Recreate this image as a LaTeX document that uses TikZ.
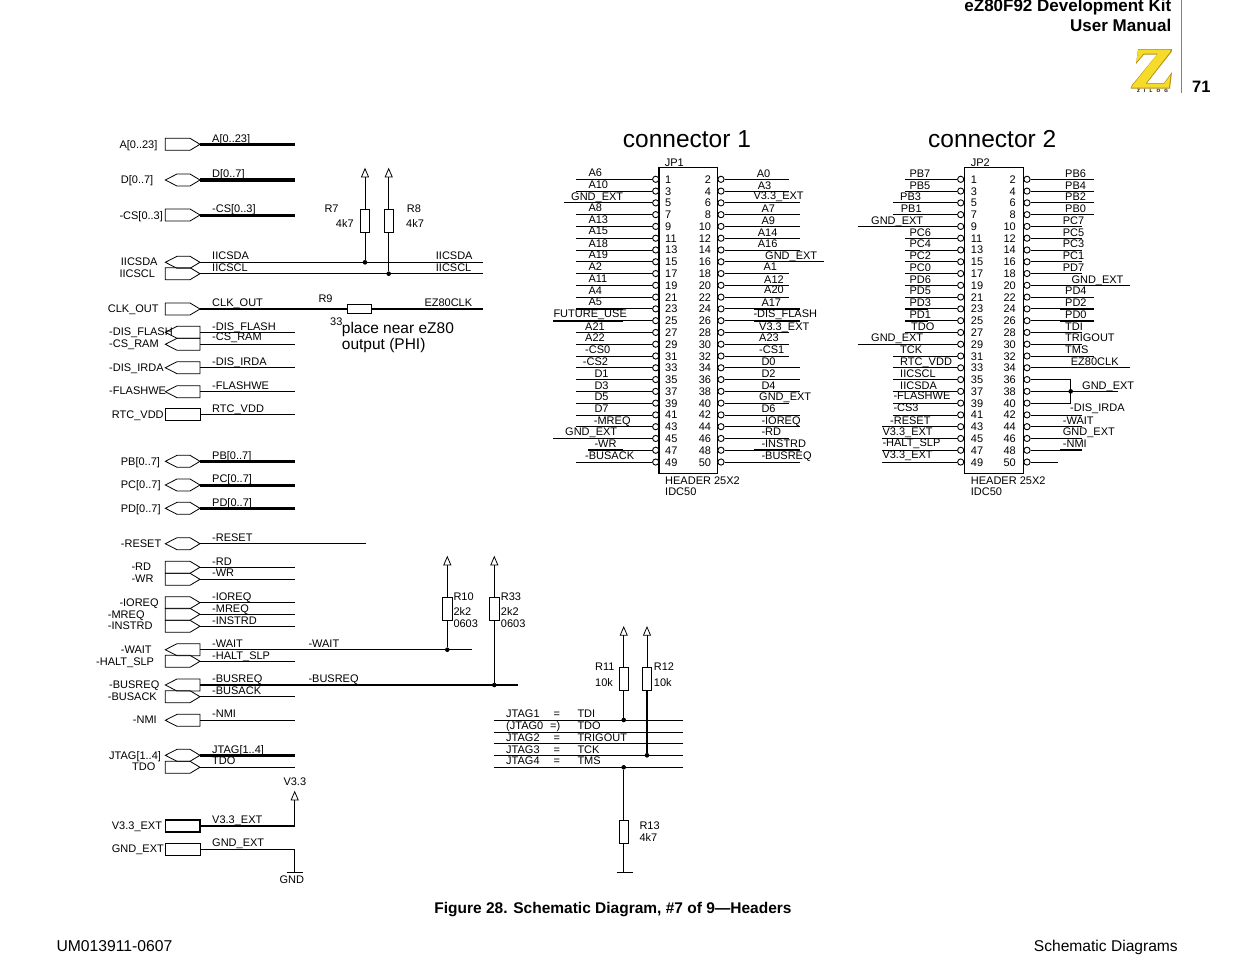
\documentclass[tikz,border=0pt]{standalone}
\usepackage{fontspec}
\setmainfont{Liberation Sans}
\usetikzlibrary{arrows.meta,calc,positioning}
\catcode`\_=12

\definecolor{zyellow}{HTML}{F6DC2A}
\definecolor{zshade}{HTML}{B98E14}
\tikzset{
	sig/.style={anchor=base west,inner sep=0pt,font=\fontsize{11}{13}\selectfont},
	pinnum/.style={inner sep=0pt,font=\fontsize{11}{13}\selectfont},
	sw/.style={line width=0.8pt},
	smid/.style={line width=2pt},
	sbus/.style={line width=3pt},
	sfat/.style={line width=3.6pt},
	pthick/.style={line width=2pt,shorten <=29pt},
	port/.style={line width=0.8pt,line join=miter},
	pinball/.style={circle,draw,fill=white,line width=0.9pt,inner sep=0pt,minimum size=6.2pt},
	jdot/.style={circle,fill=black,inner sep=0pt,minimum size=4.6pt},
	resv/.style={draw,line width=1pt,fill=white,inner sep=0pt,minimum width=9.4pt,minimum height=23pt},
	resh/.style={draw,line width=1pt,fill=white,inner sep=0pt,minimum width=23.6pt,minimum height=9.6pt},
	hdrbox/.style={draw,line width=1.2pt,inner sep=0pt,minimum width=58.4pt,minimum height=306pt},
	pwr/.style={line width=0.8pt,-{Triangle[open,length=9.6pt,width=8pt]}},
}

% port outlines, the number is the y of the wire
\newcommand\portin[1]{\draw[port] (165.3,-#1+6) -- (190,-#1+6) -- (200,-#1) -- (190,-#1-6) -- (165.3,-#1-6) -- cycle;}
\newcommand\portout[1]{\draw[port] (200,-#1+6) -- (177,-#1+6) -- (165.3,-#1) -- (177,-#1-6) -- (200,-#1-6) -- cycle;}
\newcommand\portbi[1]{\draw[port] (165.3,-#1) -- (177,-#1+6) -- (190,-#1+6) -- (200,-#1) -- (190,-#1-6) -- (177,-#1-6) -- cycle;}
\newcommand\portno[1]{\draw[port] (165.3,-#1+6) rectangle (200,-#1-6);}

% header pins: name, ball x, number x, list
\newcommand\hdrleft[4]{
	\foreach \p/\ex/\lx/\ly/\txt/\wst in {#4}{
		\pgfmathsetmacro\yy{179.3+(\p-1)*5.89}
		\node[pinball] (#1-\p) at (#2,-\yy) {};
		\node[pinnum,anchor=base west] (#1-n\p) at (#3,-\yy-4) {\p};
		\coordinate (#1-e\p) at (\ex,-\yy);
		\draw[sw] (#1-\p) -- (#1-e\p);
		\draw[\wst] (#1-\p) -- (#1-e\p);
		\node[sig] (#1-t\p) at (\lx,-\ly-4) {\txt};
	}
}
\newcommand\hdrright[4]{
	\foreach \p/\ex/\lx/\ly/\txt/\wst in {#4}{
		\pgfmathsetmacro\yy{179.3+(\p-2)*5.89}
		\node[pinball] (#1-\p) at (#2,-\yy) {};
		\node[pinnum,anchor=base east] (#1-n\p) at (#3,-\yy-4) {\p};
		\coordinate (#1-e\p) at (\ex,-\yy);
		\draw[sw] (#1-\p) -- (#1-e\p);
		\draw[\wst] (#1-\p) -- (#1-e\p);
		\node[sig] (#1-t\p) at (\lx,-\ly-4) {\txt};
	}
}

\begin{document}
\begin{tikzpicture}[x=1pt,y=1pt]
	\useasboundingbox (0,0) rectangle (1235,-954);

	% page furniture
	\node[inner sep=0pt,anchor=base east,font=\fontsize{17}{18}\selectfont\bfseries] (title1) at (1171.5,-11.7) {eZ80F92 Development Kit};
	\node[inner sep=0pt,anchor=base east,font=\fontsize{17}{18}\selectfont\bfseries] (title2) at (1171.5,-31.5) {User Manual};
	\draw[gray,line width=0.8pt] (1181.7,0) -- (1181.7,-93);
	\node[inner sep=0pt,anchor=base west,font=\fontsize{16.5}{18}\selectfont\bfseries] (pageno) at (1192,-92.5) {71};
	\fill[zshade] (1138,-49) -- (1172,-49) -- (1171.5,-52) -- (1147,-83) -- (1164,-83) -- (1172,-72) -- (1170,-88.5) -- (1130.5,-88.5) -- (1132,-85) -- (1157,-54.5) -- (1144,-54.5) -- (1136,-64) -- cycle;
	\fill[zyellow] (1138,-49.5) -- (1170.5,-49.5) -- (1170,-52) -- (1145.5,-83.5) -- (1164.5,-83.5) -- (1170.5,-75) -- (1169,-87.5) -- (1131.5,-87.5) -- (1133,-85) -- (1158,-53.5) -- (1143.5,-53.5) -- (1136.5,-62) -- cycle;
	\node[inner sep=0pt,font=\fontsize{4.6}{5}\selectfont\bfseries] (zilog) at (1152.5,-91) {Z\hspace{4.2pt}I\hspace{4.2pt}L\hspace{4.2pt}O\hspace{4.2pt}G};
	\node[inner sep=0pt,anchor=base,font=\fontsize{15.5}{17}\selectfont\bfseries] (caption) at (613,-913.5) {Figure 28. Schematic Diagram, \#7 of 9—Headers};
	\node[inner sep=0pt,anchor=base west,font=\fontsize{15.7}{17}\selectfont] (docno) at (56.3,-951) {UM013911-0607};
	\node[inner sep=0pt,anchor=base east,font=\fontsize{15.6}{17}\selectfont] (section) at (1178,-951) {Schematic Diagrams};

	% left hand ports with their wires
	\foreach \nm/\kind/\yy/\lx/\ly/\txt/\wy/\wend/\wst in {
		adr/in/144.3/119.3/144/{A[0..23]}/138/295/sbus,
		dat/bi/180/120.7/179.3/{D[0..7]}/173.3/295/sfat,
		cs/in/215/119.3/215/{-CS[0..3]}/208.3/295/sbus,
		sda/bi/262.3/120.7/261.3/IICSDA/255/483.3/sw,
		scl/in/273.7/119.3/273.7/IICSCL/267/483.3/sw,
		disf/out/332.3/109/331.3/-DIS_FLASH/326/295/sw,
		csram/out/344.3/109/343.3/-CS_RAM/336.7/295/sw,
		disi/out/367.7/109/367.3/-DIS_IRDA/361.3/295/sw,
		fwe/out/391.7/109/390.7/-FLASHWE/385/295/sw,
		rtc/no/414.7/111.7/414/RTC_VDD/408/295/sw,
		pb/bi/461.3/120.7/461.3/{PB[0..7]}/455.3/295/sbus,
		pc/bi/485/120.7/484.3/{PC[0..7]}/478.3/295/sbus,
		pd/bi/508.3/120.7/508.3/{PD[0..7]}/502/295/sbus,
		rst/bi/543.7/120.7/543.3/-RESET/537/366/sw,
		rd/in/567.3/131.3/566.3/-RD/561/295/sw,
		wr/in/579.3/131.3/578/-WR/572.3/295/sw,
		iorq/in/602.7/119.3/602/-IOREQ/596/295/sw,
		mreq/in/614.3/107.7/614/-MREQ/608/295/sw,
		instr/in/626.3/107.7/625.3/-INSTRD/620.3/295/sw,
		wait/out/649.7/120.7/649/-WAIT/643/471.7/sw,
		halt/in/661.3/96/661/-HALT_SLP/655.3/295/sw,
		busrq/out/685/109/684/-BUSREQ/678/518/smid,
		busak/in/696.7/107.7/696/-BUSACK/690/295/sw,
		nmi/out/720.3/132.7/719.3/-NMI/713.3/295/sw,
		jtag/bi/755.3/109/755/{JTAG[1..4]}/749.3/295/sbus,
		tdo/in/767.3/132/766/TDO/760.3/295/sw}{
		\csname port\kind\endcsname{\yy}
		\coordinate (\nm) at (200,-\yy);
		\coordinate (\nm-e) at (\wend,-\yy);
		\draw[\wst] (\nm) -- (\nm-e);
		\node[sig] (\nm-lab) at (\lx,-\ly-4) {\txt};
		\node[sig] (\nm-sig) at (212,-\wy-4) {\txt};
	}
	\node[sig] (wait-b) at (308.3,-647) {-WAIT};
	\node[sig] (busrq-b) at (308.3,-682) {-BUSREQ};

	% pull ups on the bus
	\node[resv] (R7) at (365,-221) {};
	\node[resv] (R8) at (388.7,-221) {};
	\coordinate (pwr7) at (365,-167.7);
	\coordinate (pwr8) at (388.7,-167.7);
	\draw[pwr] (R7) -- (pwr7);
	\draw[pwr] (R8) -- (pwr8);
	\node[jdot] (dot7) at (R7 |- sda) {};
	\node[jdot] (dot8) at (R8 |- scl) {};
	\draw[sw] (R7) -- (dot7);
	\draw[sw] (R8) -- (dot8);
	\node[sig] (R7lab) at (324.3,-212.3) {R7};
	\node[sig] (R7val) at (335.7,-227.3) {4k7};
	\node[sig] (R8lab) at (406.7,-212.3) {R8};
	\node[sig] (R8val) at (406,-227.3) {4k7};
	\node[sig] (sda-r) at (435.7,-259) {IICSDA};
	\node[sig] (scl-r) at (435.7,-271) {IICSCL};

	% clock
	\portin{309}
	\coordinate (clk) at (200,-309);
	\coordinate (clk-e) at (483.3,-309);
	\node[resh] (R9) at (359.2,-309) {};
	\draw[smid] (clk) -- (R9) -- (clk-e);
	\node[sig] (clk-lab) at (107.7,-312.3) {CLK_OUT};
	\node[sig] (clk-sig) at (212,-306.3) {CLK_OUT};
	\node[sig] (R9lab) at (318.3,-302) {R9};
	\node[sig] (R9val) at (330,-325) {33};
	\node[sig] (ezclk) at (424.3,-306) {EZ80CLK};
	\node[anchor=base west,inner sep=0pt,align=left,font=\fontsize{15.5}{16.4}\selectfont] (note) at (341.7,-349.4) {place near eZ80\\output (PHI)};

	% pull ups on wait and busreq
	\node[resv] (R10) at (447.3,-609) {};
	\node[resv] (R33) at (494.3,-609) {};
	\coordinate (pwr10) at (447.3,-555.7);
	\coordinate (pwr33) at (494.3,-555.7);
	\draw[pwr] (R10) -- (pwr10);
	\draw[pwr] (R33) -- (pwr33);
	\node[jdot] (dot10) at (R10 |- wait) {};
	\node[jdot] (dot33) at (R33 |- busrq) {};
	\draw[sw] (R10) -- (dot10);
	\draw[sw] (R33) -- (dot33);
	\node[sig] (R10lab) at (453.3,-600) {R10};
	\node[sig] (R10val) at (453.3,-615.3) {2k2};
	\node[sig] (R10pkg) at (453.3,-627.3) {0603};
	\node[sig] (R33lab) at (500.7,-600) {R33};
	\node[sig] (R33val) at (500.7,-615.3) {2k2};
	\node[sig] (R33pkg) at (500.7,-627.3) {0603};

	% supply
	\portno{826}
	\portno{849.7}
	\coordinate (v33) at (200,-826);
	\coordinate (v33c) at (294.7,-826);
	\coordinate (v33t) at (294.7,-790.7);
	\draw[smid] (v33) -- (v33c);
	\draw[pwr] (v33c) -- (v33t);
	\draw[port,line width=1.6pt] (165.3,-820) rectangle (200,-832);
	\node[sig] (v33-lab) at (111.7,-829) {V3.3_EXT};
	\node[sig] (v33-sig) at (212,-823) {V3.3_EXT};
	\node[sig] (v33-top) at (283.3,-785) {V3.3};
	\coordinate (gnd) at (200,-849.7);
	\coordinate (gndc) at (294.7,-849.7);
	\coordinate (gndb) at (294.7,-872.7);
	\draw[sw] (gnd) -- (gndc) -- (gndb);
	\draw[sw] (286.7,-872.7) -- (302.7,-872.7);
	\node[sig] (gnd-lab) at (111.7,-852) {GND_EXT};
	\node[sig] (gnd-sig) at (212,-846) {GND_EXT};
	\node[sig] (gnd-txt) at (279.3,-883) {GND};

	% jtag table
	\foreach \nm/\yy/\ca/\cb/\cc/\bx/\ty in {
		a/720/JTAG1/=/TDI/553.3/713.3,
		b/732.3/(JTAG0/=)/TDO/550/725,
		c/743.3/JTAG2/=/TRIGOUT/553.3/737,
		d/755.3/JTAG3/=/TCK/553.3/749,
		e/767.3/JTAG4/=/TMS/553.3/760.3}{
		\coordinate (jt\nm-a) at (494,-\yy);
		\coordinate (jt\nm-b) at (682.7,-\yy);
		\draw[sw] (jt\nm-a) -- (jt\nm-b);
		\node[sig] (jt\nm-1) at (506,-\ty-4) {\ca};
		\node[sig] (jt\nm-2) at (\bx,-\ty-4) {\cb};
		\node[sig] (jt\nm-3) at (577.3,-\ty-4) {\cc};
	}
	\node[resv] (R11) at (623.7,-679) {};
	\node[resv] (R12) at (647,-679) {};
	\node[resv] (R13) at (623.7,-831.5) {};
	\coordinate (pwr11) at (623.7,-626);
	\coordinate (pwr12) at (647,-626);
	\draw[pwr] (R11) -- (pwr11);
	\draw[pwr] (R12) -- (pwr12);
	\node[jdot] (dot11) at (623.7,-720) {};
	\node[jdot] (dot12) at (647,-755.3) {};
	\node[jdot] (dot13) at (623.7,-767.3) {};
	\draw[sw] (R11) -- (dot11);
	\draw[smid] (R12) -- (dot12);
	\draw[sw] (R13) -- (dot13);
	\coordinate (r13b) at (623.7,-872.7);
	\draw[sw] (R13) -- (r13b);
	\draw[sw] (616.7,-872.7) -- (632.7,-872.7);
	\node[sig] (R11lab) at (595,-670.7) {R11};
	\node[sig] (R11val) at (595,-686.3) {10k};
	\node[sig] (R12lab) at (653.7,-670.7) {R12};
	\node[sig] (R12val) at (653.7,-686.3) {10k};
	\node[sig] (R13lab) at (639.3,-829.3) {R13};
	\node[sig] (R13val) at (639.3,-841.3) {4k7};

	% connector 1
	\node[anchor=base west,inner sep=0pt,font=\fontsize{24.5}{26}\selectfont] (con1) at (622.7,-147) {connector 1};
	\node[sig] (JP1lab) at (664.7,-166.3) {JP1};
	\node[hdrbox] (JP1) at (688.15,-320.3) {};
	\node[sig] (JP1type) at (665,-484) {HEADER 25X2};
	\node[sig] (JP1pkg) at (665,-495) {IDC50};
	\hdrleft{JP1}{655.7}{665}{
		1/576/588.3/172.3/A6/sw,
		3/576/588.3/184/A10/sw,
		5/564/571/196.3/GND_EXT/sw,
		7/576/588.3/207.3/A8/sw,
		9/576/588.3/219.3/A13/sw,
		11/576/588.3/230.3/A15/sw,
		13/576/588.3/243.3/A18/sw,
		15/576/588.3/254.3/A19/sw,
		17/576/588.3/266.3/A2/sw,
		19/576/588.3/278.3/A11/sw,
		21/576/588.3/290/A4/sw,
		23/576/588.3/301.7/A5/pthick,
		25/552.7/553.3/313.7/FUTURE_USE/pthick,
		27/576/585/326.7/A21/sw,
		29/576/585/337.3/A22/sw,
		31/576/585/349.3/-CS0/sw,
		33/576/582.7/361.3/-CS2/sw,
		35/576/594.3/373.3/D1/sw,
		37/576/594.3/385.3/D3/sw,
		39/576/594.3/396.3/D5/sw,
		41/576/594.3/408/D7/sw,
		43/576/593.7/420/-MREQ/sw,
		45/552.7/565/431.3/GND_EXT/sw,
		47/587.7/594.3/443.3/-WR/pthick,
		49/576/585/455.3/-BUSACK/sw}
	\hdrright{JP1}{721}{711.3}{
		2/788.7/756.7/173.3/A0/sw,
		4/788.7/757.7/185.7/A3/sw,
		6/800/753.3/195/V3.3_EXT/sw,
		8/800/761.3/208.3/A7/sw,
		10/800/761.3/220.3/A9/sw,
		12/800/757.7/232.7/A14/sw,
		14/800/757.7/243.3/A16/sw,
		16/824/765/255/GND_EXT/sw,
		18/788.7/763.3/266/A1/sw,
		20/788.7/764/279.3/A12/sw,
		22/788.7/764/289.3/A20/sw,
		24/800/761.3/302/A17/pthick,
		26/800/753.3/313.3/-DIS_FLASH/pthick,
		28/788.7/759/326/V3.3_EXT/sw,
		30/788.7/759/337.7/A23/sw,
		32/788.7/759/349.7/-CS1/sw,
		34/800/761.3/361.3/D0/sw,
		36/800/761.3/373.3/D2/sw,
		38/800/761.3/385/D4/sw,
		40/788.7/759/396.3/GND_EXT/sw,
		42/800/761.3/408.3/D6/sw,
		44/800/761.3/420.3/-IOREQ/sw,
		46/788.7/761.3/431/-RD/sw,
		48/800/761.3/443.3/-INSTRD/pthick,
		50/800/761.3/455/-BUSREQ/sw}

	% connector 2
	\node[anchor=base west,inner sep=0pt,font=\fontsize{24.5}{26}\selectfont] (con2) at (928,-147) {connector 2};
	\node[sig] (JP2lab) at (970.7,-166.3) {JP2};
	\node[hdrbox] (JP2) at (994,-320.3) {};
	\node[sig] (JP2type) at (970.7,-484) {HEADER 25X2};
	\node[sig] (JP2pkg) at (970.7,-495) {IDC50};
	\hdrleft{JP2}{960.7}{970.7}{
		1/905/909.3/173.3/PB7/sw,
		3/905/909.3/185.3/PB5/sw,
		5/893.3/900/196.7/PB3/sw,
		7/893.3/900.7/208.3/PB1/sw,
		9/858/871/220.3/GND_EXT/sw,
		11/905/909.3/232.7/PC6/sw,
		13/905/909.3/243.3/PC4/sw,
		15/905/909.3/255/PC2/sw,
		17/905/909.3/267/PC0/sw,
		19/905/909.3/279/PD6/sw,
		21/905/909.3/290/PD5/sw,
		23/905/909.3/302/PD3/pthick,
		25/905/909.3/314.3/PD1/pthick,
		27/905/911/326.3/TDO/sw,
		29/858/871/337.3/GND_EXT/sw,
		31/893.3/900/349.3/TCK/sw,
		33/893.3/900/361.3/RTC_VDD/sw,
		35/893.3/900/373.3/IICSCL/sw,
		37/893.3/900/385/IICSDA/sw,
		39/893.3/893.3/395.3/-FLASHWE/sw,
		41/893.3/893.3/407.3/-CS3/sw,
		43/881.7/890/420/-RESET/sw,
		45/881.7/882.3/431.3/V3.3_EXT/sw,
		47/881.7/882.3/442.7/-HALT_SLP/sw,
		49/881.7/882.3/454.7/V3.3_EXT/sw}
	\hdrright{JP2}{1027}{1016}{
		2/1094/1065/173.3/PB6/sw,
		4/1094/1065/185.7/PB4/sw,
		6/1094/1065/196.7/PB2/sw,
		8/1094/1065/208.3/PB0/sw,
		10/1082.3/1062.7/220.3/PC7/sw,
		12/1082.3/1062.7/232/PC5/sw,
		14/1082.3/1062.7/243.7/PC3/sw,
		16/1082.3/1062.7/255/PC1/sw,
		18/1082.3/1062.7/267/PD7/sw,
		20/1130/1071.3/279.3/GND_EXT/sw,
		22/1094/1065/290.3/PD4/sw,
		24/1094/1065/302/PD2/pthick,
		26/1094/1065/314.3/PD0/pthick,
		28/1082.3/1065/326/TDI/sw,
		30/1082.3/1065/337.3/TRIGOUT/sw,
		32/1094/1065/349.3/TMS/sw,
		34/1130/1070.7/361.3/EZ80CLK/sw,
		36/1070.7/1082/385.3/{}/sw,
		38/1117.7/1082/385.3/GND_EXT/sw,
		40/1070.7/1070/407.7/{}/sw,
		42/1082.3/1070/407.7/-DIS_IRDA/sw,
		44/1082.3/1062.7/420/-WAIT/sw,
		46/1082.3/1062.7/431.3/GND_EXT/sw,
		48/1082.3/1062.7/443.3/-NMI/pthick,
		50/1058.3/1062.7/455/{}/sw}
	\draw[sw] (JP2-e36) -- (JP2-e40);
	\node[jdot] (dotgnd) at (JP2-e36 |- JP2-e38) {};
\end{tikzpicture}
\end{document}
